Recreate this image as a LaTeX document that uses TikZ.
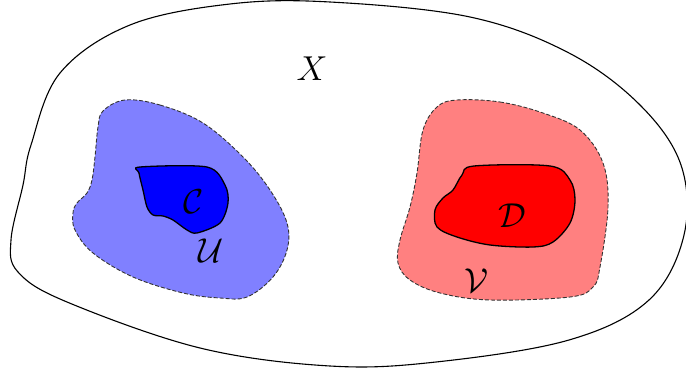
\documentclass[tikz,border=0pt]{standalone}
\usetikzlibrary{calc}
\begin{document}
\begin{tikzpicture}[x=0.5pt,y=-0.5pt,
  outer/.style={draw=black,line width=0.55pt},
  nbhd/.style={draw=black!80,line width=0.45pt,dash pattern=on 2pt off 1pt},
  core/.style={draw=black,line width=0.65pt},
  lbl/.style={inner sep=0pt,font=\fontsize{16}{18}\selectfont}]
\useasboundingbox (0,0) rectangle (686,369);
% outer set X
\draw[outer] plot[smooth cycle,tension=0.6] coordinates {
  (330,2) (470,17) (569,53) (640,105) (681,165) (684,235) (649,300)
  (569,340) (436,362) (330,366) (200,348) (67,302) (18,272) (11,240)
  (23,185) (31,145) (60,73) (130,25) (230,4)};
% U
\draw[nbhd,fill=blue!50] plot[smooth cycle,tension=0.6] coordinates {
  (125,100) (160,105) (203,123) (243,157) (270,190) (287,223) (287,250)
  (273,277) (247,297) (220,298) (183,293) (133,277) (93,253) (75,230)
  (73,213) (77,203) (87,193) (92,180) (95,157) (98,127) (103,111)};
% C
\draw[core,fill=blue] plot[smooth cycle,tension=0.5] coordinates {
  (140,167) (207,167) (225,185) (228,203) (220,223) (197,233) (187,230)
  (173,220) (163,216) (153,215) (147,207) (143,190) (139,173)};
% V
\draw[nbhd,fill=red!50] plot[smooth cycle,tension=0.6] coordinates {
  (457,100) (500,102) (543,113) (580,130) (603,163) (608,207) (600,267)
  (593,287) (570,297) (490,300) (440,293) (410,280) (398,263) (400,240)
  (410,207) (417,173) (423,130) (437,107)};
% D
\draw[core,fill=red] plot[smooth cycle,tension=0.55] coordinates {
  (474,166) (550,166) (570,180) (575,200) (570,223) (553,242) (533,247)
  (490,245) (457,237) (437,227) (435,210) (443,198) (453,190) (462,175)};
% labels
\node[lbl] (X) at (312,69) {$X$};
\node[lbl] (C) at (194,202) {$\mathcal{C}$};
\node[lbl] (U) at (211,251) {$\mathcal{U}$};
\node[lbl] (D) at (512,216) {$\mathcal{D}$};
\node[lbl] (V) at (477,281) {$\mathcal{V}$};
\end{tikzpicture}
\end{document}
